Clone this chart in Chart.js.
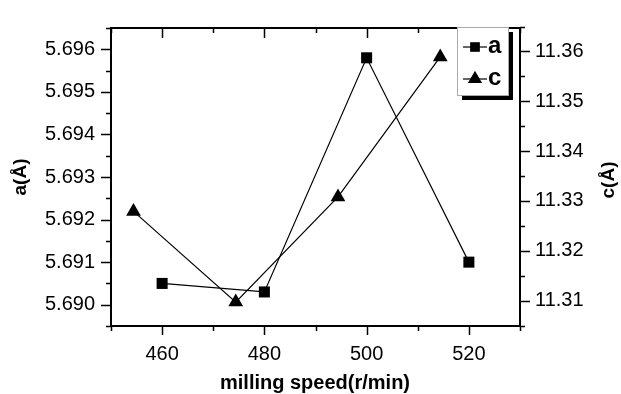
<!DOCTYPE html>
<html>
<head>
<meta charset="utf-8">
<script src="https://cdn.jsdelivr.net/npm/chart.js@4.4.1/dist/chart.umd.min.js"></script>
<style>
  html, body { margin: 0; padding: 0; background: #fff; }
  #wrap { width: 621px; height: 394px; position: relative; }
</style>
</head>
<body>
<div id="wrap"><canvas id="chart"></canvas></div>
<script>
// data
const speedA = [460, 480, 500, 520];
const aValues = [5.6905, 5.6903, 5.6958, 5.6910];
const speedC = [454.4, 474.4, 494.4, 514.4];
const cValues = [11.3279, 11.3097, 11.3308, 11.3589];

const xTicks = [460, 480, 500, 520];
const aTicks = [5.690, 5.691, 5.692, 5.693, 5.694, 5.695, 5.696];
const cTicks = [11.31, 11.32, 11.33, 11.34, 11.35, 11.36];

const FONT = '"Liberation Sans", Arial, sans-serif';

// frame, minor/major ticks, axis titles and legend
const framePlugin = {
    id: 'frame',
    afterDraw(chart) {
        const ctx = chart.ctx;
        const { left, right, top, bottom } = chart.chartArea;
        const x = chart.scales.x, ya = chart.scales.ya, yc = chart.scales.yc;
        ctx.save();
        ctx.strokeStyle = '#000';
        ctx.lineWidth = 2;
        ctx.strokeRect(left, top, right - left, bottom - top);

        ctx.lineWidth = 1.5;
        ctx.beginPath();
        for (let v = 450; v <= 530; v += 10) {
            const px = Math.round(x.getPixelForValue(v)) + 0.5;
            const major = v % 20 === 0;
            ctx.moveTo(px, bottom); ctx.lineTo(px, bottom + (major ? 9 : 5));
            ctx.moveTo(px, top); ctx.lineTo(px, top + (major ? 10 : 5));
        }
        for (let i = 0; i <= 14; i++) {
            const v = 5.6895 + i * 0.0005;
            const py = Math.round(ya.getPixelForValue(v)) + 0.5;
            const major = i % 2 === 1;
            ctx.moveTo(left, py); ctx.lineTo(left - (major ? 10 : 5), py);
        }
        for (let i = 0; i <= 12; i++) {
            const v = 11.305 + i * 0.005;
            const py = Math.round(yc.getPixelForValue(v)) + 0.5;
            const major = i % 2 === 1;
            ctx.moveTo(right, py); ctx.lineTo(right + (major ? 10 : 5), py);
        }
        ctx.stroke();

        // axis titles
        ctx.fillStyle = '#000';
        ctx.font = 'bold 20px ' + FONT;
        ctx.textAlign = 'center';
        ctx.textBaseline = 'middle';
        ctx.fillText('milling speed(r/min)', 315, 383);
        ctx.font = 'bold 19px ' + FONT;
        ctx.save();
        ctx.translate(21, 177);
        ctx.rotate(-Math.PI / 2);
        ctx.fillText('a(Å)', 0, 0);
        ctx.restore();
        ctx.save();
        ctx.translate(609, 180);
        ctx.rotate(-Math.PI / 2);
        ctx.fillText('c(Å)', 0, 0);
        ctx.restore();

        // legend box with shadow
        const bx = 457, by = 27, bw = 51, bh = 68;
        ctx.fillStyle = '#000';
        ctx.fillRect(bx + 5, by + bh, bw, 5);
        ctx.fillRect(bx + bw, by + 5, 5, bh);
        ctx.fillStyle = '#fff';
        ctx.fillRect(bx, by, bw, bh);
        ctx.strokeStyle = '#aaa';
        ctx.lineWidth = 1;
        ctx.strokeRect(bx + 0.5, by + 0.5, bw, bh);

        const items = [
            { label: 'a', style: 'rect', r: 6, y: 47 },
            { label: 'c', style: 'triangle', r: 7, y: 79 }
        ];
        items.forEach(it => {
            ctx.strokeStyle = '#000';
            ctx.lineWidth = 1.2;
            ctx.beginPath();
            ctx.moveTo(463, it.y); ctx.lineTo(487, it.y);
            ctx.stroke();
            ctx.fillStyle = '#000';
            Chart.helpers.drawPoint(ctx, { pointStyle: it.style, radius: it.r, borderWidth: 1 }, 475, it.y);
            ctx.fillStyle = '#000';
            ctx.font = 'bold 24px ' + FONT;
            ctx.textAlign = 'left';
            ctx.textBaseline = 'middle';
            ctx.fillText(it.label, 488, it.y - 1);
        });
        ctx.restore();
    }
};

new Chart(document.getElementById('chart'), {
    type: 'scatter',
    data: {
        datasets: [
            {
                label: 'a',
                data: speedA.map((s, i) => ({ x: s, y: aValues[i] })),
                yAxisID: 'ya',
                showLine: true,
                borderColor: '#000',
                borderWidth: 1.2,
                backgroundColor: '#000',
                pointStyle: 'rect',
                pointRadius: 7.8,
                pointBorderWidth: 0
            },
            {
                label: 'c',
                data: speedC.map((s, i) => ({ x: s, y: cValues[i] })),
                yAxisID: 'yc',
                showLine: true,
                borderColor: '#000',
                borderWidth: 1.2,
                backgroundColor: '#000',
                pointStyle: 'triangle',
                pointRadius: 8.5,
                pointBorderWidth: 0
            }
        ]
    },
    options: {
        responsive: true,
        maintainAspectRatio: false,
        animation: false,
        layout: { padding: { top: 11, left: 0, right: 0, bottom: 0 } },
        plugins: {
            legend: { display: false },
            tooltip: { enabled: false }
        },
        scales: {
            x: {
                type: 'linear',
                min: 450,
                max: 530,
                afterBuildTicks: s => { s.ticks = xTicks.map(v => ({ value: v })); },
                afterFit: s => { s.height = 68; },
                grid: { display: true, drawOnChartArea: false, drawTicks: false },
                border: { display: false },
                ticks: {
                    color: '#000',
                    padding: 16,
                    font: { family: FONT, size: 20 },
                    callback: v => v
                }
            },
            ya: {
                type: 'linear',
                position: 'left',
                min: 5.6895,
                max: 5.6965,
                afterBuildTicks: s => { s.ticks = aTicks.map(v => ({ value: v })); },
                afterFit: s => { s.width = 111; },
                grid: { display: true, drawOnChartArea: false, drawTicks: false },
                border: { display: false },
                ticks: {
                    color: '#000',
                    padding: 16,
                    font: { family: FONT, size: 20 },
                    callback: v => v.toFixed(3)
                }
            },
            yc: {
                type: 'linear',
                position: 'right',
                min: 11.3049,
                max: 11.3647,
                afterBuildTicks: s => { s.ticks = cTicks.map(v => ({ value: v })); },
                afterFit: s => { s.width = 101; },
                grid: { display: true, drawOnChartArea: false, drawTicks: false },
                border: { display: false },
                ticks: {
                    color: '#000',
                    padding: 15,
                    font: { family: FONT, size: 20 },
                    callback: v => v.toFixed(2)
                }
            }
        }
    },
    plugins: [framePlugin]
});
</script>
</body>
</html>
